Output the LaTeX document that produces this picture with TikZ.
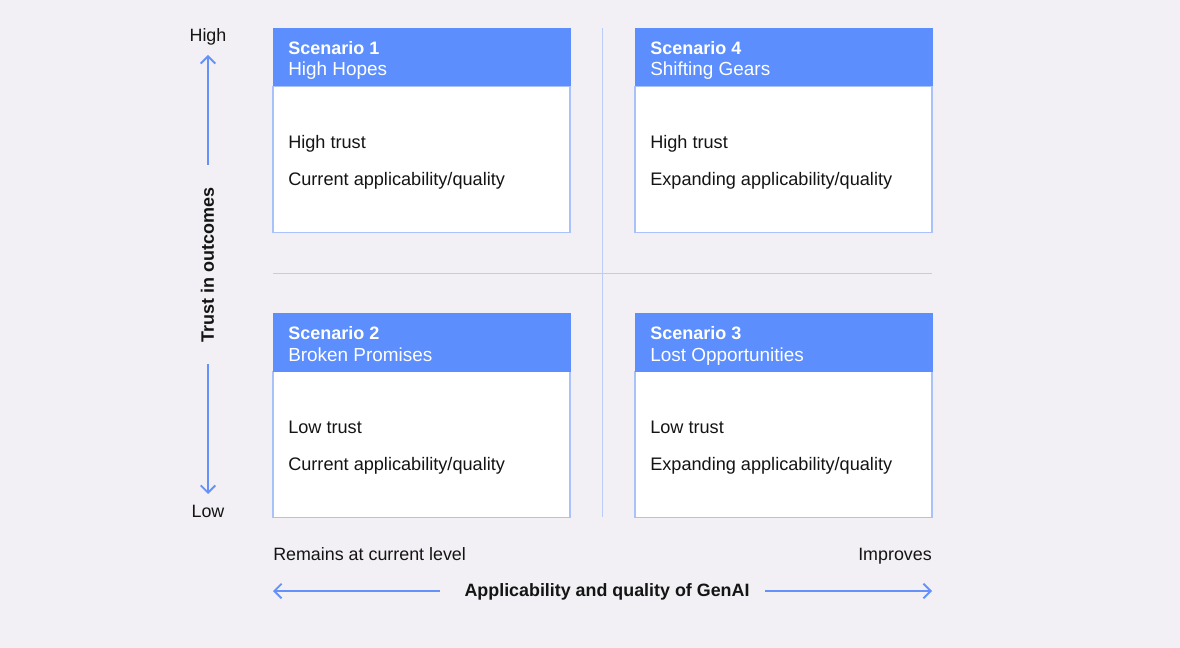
\documentclass[tikz,border=0pt]{standalone}
\usepackage{fontspec}
\setmainfont{Liberation Sans}
\usetikzlibrary{arrows.meta}
\definecolor{bg}{RGB}{242,240,244}
\definecolor{hdr}{RGB}{92,142,253}
\definecolor{bord}{RGB}{170,194,250}
\definecolor{axl}{RGB}{186,205,250}
\definecolor{arr}{RGB}{100,146,250}
\definecolor{txt}{RGB}{20,20,20}
\tikzset{
  hdrbox/.style={fill=hdr, draw=none},
  bodybox/.style={fill=white, draw=bord, line width=0.9pt},
  ttl/.style={anchor=base west, inner sep=0pt, text=white, font=\fontsize{13.5}{15}\selectfont\bfseries},
  sub/.style={anchor=base west, inner sep=0pt, text=white, font=\fontsize{14.2}{16}\selectfont},
  body/.style={anchor=base west, inner sep=0pt, text=txt, font=\fontsize{13.6}{15}\selectfont},
  lbl/.style={inner sep=0pt, text=txt, font=\fontsize{13.4}{15}\selectfont},
  axline/.style={draw=axl, line width=0.75pt},
  axarrow/.style={draw=arr, line width=1.4pt, -{Straight Barb[length=5.5pt,width=11pt,line width=1.4pt]}}
}
\begin{document}
\begin{tikzpicture}[x=0.75pt,y=-0.75pt]
\fill[bg] (0,0) rectangle (1180,648);
\useasboundingbox (0,0) rectangle (1180,648);
% quadrant lines
\coordinate (vt) at (602.5,28);
\coordinate (vb) at (602.5,517);
\coordinate (hl) at (273,274);
\coordinate (hr) at (932,274);
\draw[axline] (vt) -- (vb);
\draw[axline] (hl) -- (hr);
% boxes
\foreach \name/\x/\y/\t/\s/\a/\b in {
  s1/273/28/Scenario 1/High Hopes/High trust/Current applicability\slash quality,
  s4/635/28/Scenario 4/Shifting Gears/High trust/Expanding applicability\slash quality,
  s2/273/313/Scenario 2/Broken Promises/Low trust/Current applicability\slash quality,
  s3/635/313/Scenario 3/Lost Opportunities/Low trust/Expanding applicability\slash quality}{
  \path[bodybox] (\x,\y+58.5) rectangle ++(297,146) coordinate (\name-body);
  \path[hdrbox] (\x,\y) rectangle ++(297.5,58.5) coordinate (\name-hdr);
  \node[ttl] (\name-t) at (\x+15,\y+26.5) {\t};
  \node[sub] (\name-s) at (\x+15,\y+48) {\s};
  \node[body] (\name-a) at (\x+15,\y+120.5) {\a};
  \node[body] (\name-b) at (\x+15,\y+157.5) {\b};
}
% vertical axis
\node[lbl, anchor=base] (high) at (208,41.5) {High};
\node[lbl, anchor=base] (low) at (208,517.5) {Low};
\node[lbl, rotate=90, font=\fontsize{13.5}{15}\selectfont\bfseries] (trust) at (207.5,265) {Trust in outcomes};
\coordinate (upt) at (208,165);
\coordinate (uph) at (208,55);
\coordinate (dnt) at (208,364);
\coordinate (dnh) at (208,494);
\draw[axarrow] (upt) -- (uph);
\draw[axarrow] (dnt) -- (dnh);
% horizontal axis
\node[lbl, anchor=base west] (rem) at (273,560.5) {Remains at current level};
\node[lbl, anchor=base east] (imp) at (932,560.5) {Improves};
\node[lbl, anchor=base, font=\fontsize{13.4}{15}\selectfont\bfseries] (gen) at (607,596.5) {Applicability and quality of GenAI};
\coordinate (lt) at (440,591);
\coordinate (lh) at (273,591);
\coordinate (rt) at (765,591);
\coordinate (rh) at (932,591);
\draw[axarrow] (lt) -- (lh);
\draw[axarrow] (rt) -- (rh);
\end{tikzpicture}
\end{document}
